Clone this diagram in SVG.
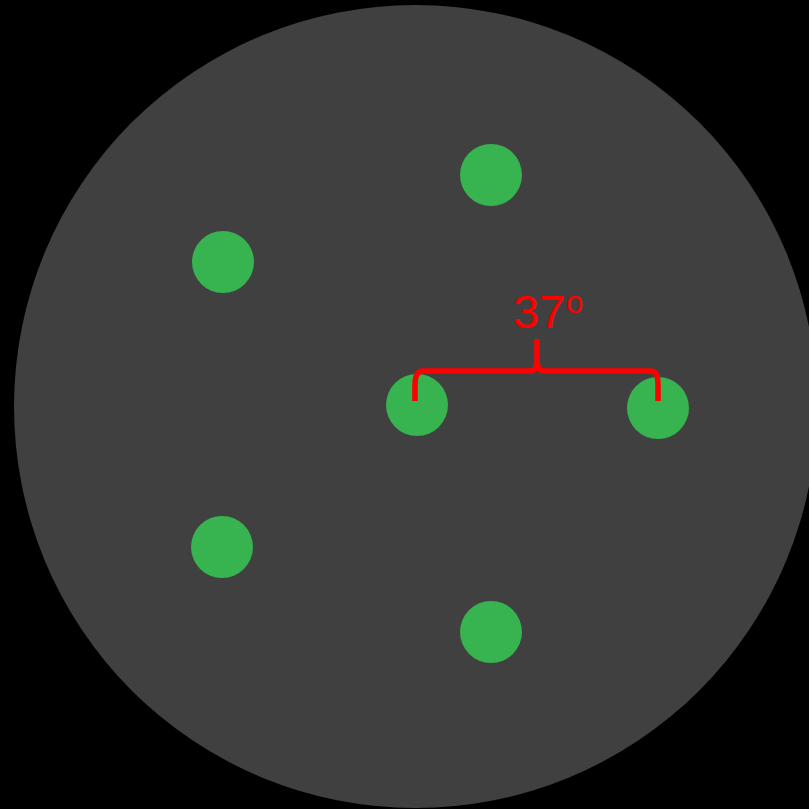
<svg xmlns="http://www.w3.org/2000/svg" width="809" height="809" viewBox="0 0 809 809">
<style>
.dot{fill:#37b34f}
.br{fill:none;stroke:#ff0000;stroke-width:5.5}
.lbl{font-family:"Liberation Sans",Arial,sans-serif;fill:#ff0000}
</style>
<rect width="809" height="809" fill="#000"/>
<g id="disk"><circle cx="415.5" cy="406.5" r="401.5" fill="#404040"/></g>
<g id="n1"><circle class="dot" cx="491" cy="175" r="31"/></g>
<g id="n2"><circle class="dot" cx="223" cy="262" r="31"/></g>
<g id="n3"><circle class="dot" cx="417" cy="405" r="31"/></g>
<g id="n4"><circle class="dot" cx="658" cy="408" r="31"/></g>
<g id="n5"><circle class="dot" cx="222" cy="547" r="31"/></g>
<g id="n6"><circle class="dot" cx="491" cy="632" r="31"/></g>
<g id="connectors">
<path class="br" d="M415 401 L415 385 Q415 371 423 371 L530 371 Q536 371 537 362 L537 339 M537 362 Q538 371 544 371 L651 371 Q658 371 658 385 L658 401"/>
</g>
<g id="label"><text class="lbl" x="513" y="328" font-size="47">37</text><text class="lbl" x="566" y="313" font-size="31">o</text></g>
</svg>
